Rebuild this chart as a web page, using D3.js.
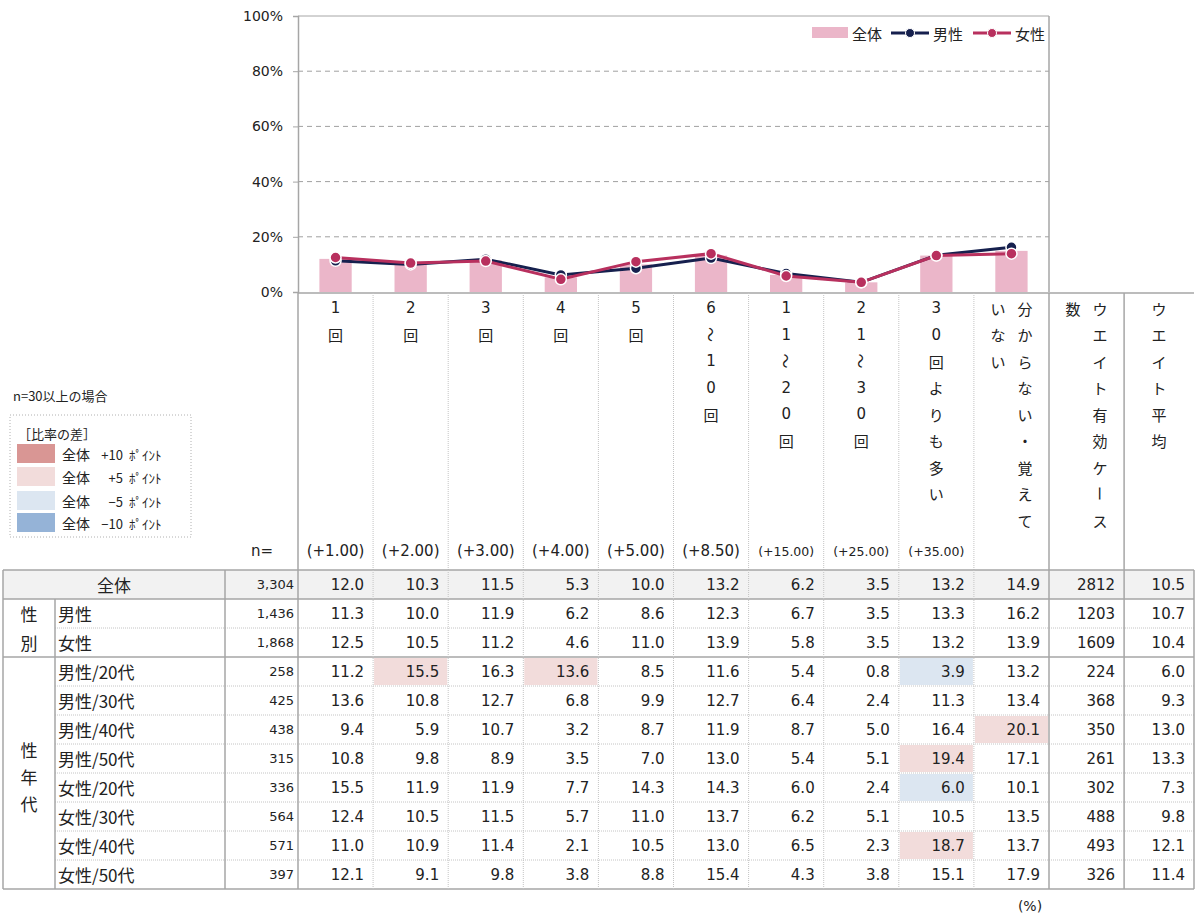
<!DOCTYPE html>
<html>
<head>
<meta charset="utf-8">
<script src="https://cdn.jsdelivr.net/npm/d3@7"></script>
<style>
body { margin: 0; background: #fff; }
svg { display: block; font-family: "Noto Sans CJK JP", sans-serif; fill: #222; }
.num { font-family: "DejaVu Sans", sans-serif; }
</style>
</head>
<body>
<svg id="chart" width="1195" height="916"></svg>
<script>
var categories = ['1回', '2回', '3回', '4回', '5回', '6〜10回', '11〜20回', '21〜30回', '30回よりも多い', '分からない・覚えていない'];
var weightLabels = ['(+1.00)', '(+2.00)', '(+3.00)', '(+4.00)', '(+5.00)', '(+8.50)', '(+15.00)', '(+25.00)', '(+35.00)', ''];
var extraHeaders = ['ウエイト有効ケース数', 'ウエイト平均'];
var yTicks = [0, 20, 40, 60, 80, 100];
var seriesNames = ['全体', '男性', '女性'];

var rowLabels = ['全体', '男性', '女性', '男性/20代', '男性/30代', '男性/40代', '男性/50代', '女性/20代', '女性/30代', '女性/40代', '女性/50代'];
var groupLabels = ['性別', '性年代'];
var groupRows = [[1, 2], [3, 10]];
var rowN = [3304, 1436, 1868, 258, 425, 438, 315, 336, 564, 571, 397];
var pct = [
    [12.0, 10.3, 11.5, 5.3, 10.0, 13.2, 6.2, 3.5, 13.2, 14.9],
    [11.3, 10.0, 11.9, 6.2, 8.6, 12.3, 6.7, 3.5, 13.3, 16.2],
    [12.5, 10.5, 11.2, 4.6, 11.0, 13.9, 5.8, 3.5, 13.2, 13.9],
    [11.2, 15.5, 16.3, 13.6, 8.5, 11.6, 5.4, 0.8, 3.9, 13.2],
    [13.6, 10.8, 12.7, 6.8, 9.9, 12.7, 6.4, 2.4, 11.3, 13.4],
    [9.4, 5.9, 10.7, 3.2, 8.7, 11.9, 8.7, 5.0, 16.4, 20.1],
    [10.8, 9.8, 8.9, 3.5, 7.0, 13.0, 5.4, 5.1, 19.4, 17.1],
    [15.5, 11.9, 11.9, 7.7, 14.3, 14.3, 6.0, 2.4, 6.0, 10.1],
    [12.4, 10.5, 11.5, 5.7, 11.0, 13.7, 6.2, 5.1, 10.5, 13.5],
    [11.0, 10.9, 11.4, 2.1, 10.5, 13.0, 6.5, 2.3, 18.7, 13.7],
    [12.1, 9.1, 9.8, 3.8, 8.8, 15.4, 4.3, 3.8, 15.1, 17.9]
];
var weightN = [2812, 1203, 1609, 224, 368, 350, 261, 302, 488, 493, 326];
var weightAvg = [10.5, 10.7, 10.4, 6.0, 9.3, 13.0, 13.3, 7.3, 9.8, 12.1, 11.4];

var diffLegend = ['全体', '全体', '全体', '全体'];
var diffValues = ['+10', '+5', '−5', '−10'];

// colours
var barColor = '#ebb6c9';
var lineColors = ['#16204e', '#b8305e'];
var diffColors = ['#d99694', '#f2dcdb', '#dce6f1', '#95b3d7'];
var gridSolid = '#a6a6a6';
var gridDot = '#c4c4c4';

var svg = d3.select('#chart');

var plotL = 298, plotR = 1049, plotT = 16, plotB = 292;
var x = d3.scaleBand().domain(categories).range([plotL, plotR]).paddingInner(0.57).paddingOuter(0.285);
var y = d3.scaleLinear().domain([0, 100]).range([plotB, plotT]);
var step = x.step();
var colX = function (k) { return plotL + k * step; };

// ---- plot area ----
svg.append('g').selectAll('line')
    .data(yTicks.filter(function (d) { return d > 0 && d < 100; }))
    .enter().append('line')
    .attr('x1', plotL).attr('x2', plotR)
    .attr('y1', function (d) { return y(d); }).attr('y2', function (d) { return y(d); })
    .attr('stroke', '#a0a0a0').attr('stroke-dasharray', '5,4');

svg.append('line').attr('x1', plotL).attr('x2', plotR).attr('y1', plotT).attr('y2', plotT).attr('stroke', gridSolid);
svg.append('line').attr('x1', plotR).attr('x2', plotR).attr('y1', plotT).attr('y2', plotB).attr('stroke', gridSolid).attr('stroke-width', 1.5);

var yAxis = svg.append('g').attr('transform', 'translate(' + plotL + ',0)')
    .call(d3.axisLeft(y).tickValues(yTicks).tickSize(5).tickFormat(function (d) { return d + '%'; }));
yAxis.select('.domain').attr('stroke', gridSolid).attr('stroke-width', 1.5);
yAxis.selectAll('.tick line').attr('stroke', gridSolid);
yAxis.selectAll('.tick text').attr('class', 'num').attr('font-size', 14).attr('fill', '#222').attr('x', -15);

svg.selectAll('.bar')
    .data(pct[0])
    .enter().append('rect')
    .attr('class', 'bar')
    .attr('x', function (d, i) { return x(categories[i]); })
    .attr('width', x.bandwidth())
    .attr('y', function (d) { return y(d); })
    .attr('height', function (d) { return plotB - y(d); })
    .attr('fill', barColor);

// baseline
svg.append('line').attr('x1', plotL).attr('x2', 1194).attr('y1', plotB + 1).attr('y2', plotB + 1).attr('stroke', gridSolid).attr('stroke-width', 1.5);

var line = d3.line()
    .x(function (d, i) { return x(categories[i]) + x.bandwidth() / 2; })
    .y(function (d) { return y(d); });

[1, 2].forEach(function (r, si) {
    svg.append('path').datum(pct[r])
        .attr('d', line)
        .attr('fill', 'none')
        .attr('stroke', lineColors[si])
        .attr('stroke-width', 3);
});
[1, 2].forEach(function (r, si) {
    svg.append('g').selectAll('circle')
        .data(pct[r])
        .enter().append('circle')
        .attr('cx', function (d, i) { return x(categories[i]) + x.bandwidth() / 2; })
        .attr('cy', function (d) { return y(d); })
        .attr('r', 5.5)
        .attr('fill', lineColors[si])
        .attr('stroke', '#fff').attr('stroke-width', 1.5);
});

// legend (top right)
var lg = svg.append('g').attr('font-size', 15);
lg.append('rect').attr('x', 812).attr('y', 27).attr('width', 36).attr('height', 11).attr('fill', barColor);
lg.append('text').attr('x', 852).attr('y', 33).attr('dominant-baseline', 'central').text(seriesNames[0]);
[[891, 933], [973, 1015]].forEach(function (p, i) {
    lg.append('line').attr('x1', p[0]).attr('x2', p[0] + 38).attr('y1', 33).attr('y2', 33)
        .attr('stroke', lineColors[i]).attr('stroke-width', 3);
    lg.append('circle').attr('cx', p[0] + 19).attr('cy', 33).attr('r', 4.5)
        .attr('fill', lineColors[i]).attr('stroke', '#fff').attr('stroke-width', 1);
    lg.append('text').attr('x', p[1]).attr('y', 33).attr('dominant-baseline', 'central').text(seriesNames[i + 1]);
});

// ---- column headers ----
var hdr = svg.append('g').attr('font-size', 15);
function verticalText(str, cx) {
    var chars = Array.from(str);
    var cols = [];
    for (var i = 0; i < chars.length; i += 9) cols.push(chars.slice(i, i + 9));
    cols.forEach(function (col, ci) {
        var tx = cx + ((cols.length - 1) / 2 - ci) * 27;
        col.forEach(function (ch, k) {
            var ty = 308 + k * 26.5;
            var t = hdr.append('text').attr('x', tx).attr('y', ty)
                .attr('text-anchor', 'middle').attr('dominant-baseline', 'central').text(ch);
            if (/[0-9]/.test(ch)) t.attr('class', 'num');
            if (ch === '〜' || ch === 'ー') t.attr('transform', 'rotate(90,' + tx + ',' + ty + ')');
        });
    });
}
categories.concat(extraHeaders).forEach(function (c, k) {
    var left = colX(k), right = Math.min(colX(k + 1), 1194);
    verticalText(c, (left + right) / 2);
});
hdr.selectAll('.w')
    .data(weightLabels)
    .enter().append('text')
    .attr('class', 'num')
    .attr('x', function (d, k) { return colX(k) + step / 2; })
    .attr('y', 551)
    .attr('text-anchor', 'middle').attr('dominant-baseline', 'central')
    .attr('font-size', function (d) { return d.length > 7 ? 12.5 : 15; })
    .text(function (d) { return d; });
hdr.append('text').attr('class', 'num').attr('x', 262).attr('y', 551)
    .attr('text-anchor', 'middle').attr('dominant-baseline', 'central').text('n=');

// header separators
for (var k = 1; k <= 11; k++) {
    svg.append('line').attr('x1', colX(k)).attr('x2', colX(k)).attr('y1', plotB + 1).attr('y2', 570)
        .attr('stroke', k >= 10 ? gridSolid : gridDot)
        .attr('stroke-width', k >= 10 ? 1.5 : 1)
        .attr('stroke-dasharray', k >= 10 ? null : '1,1');
}
svg.append('line').attr('x1', plotL).attr('x2', plotL).attr('y1', plotB).attr('y2', 570).attr('stroke', gridSolid).attr('stroke-width', 1.5);

// ---- table ----
var tTop = 570, rowH = 29, tL = 3, tR = 1194;
var rowY = function (i) { return tTop + i * rowH; };
var tbl = svg.append('g');

tbl.append('rect').attr('x', tL).attr('y', rowY(0)).attr('width', tR - tL).attr('height', rowH).attr('fill', '#f2f2f2');

// highlighted cells
pct.forEach(function (row, r) {
    if (r === 0 || rowN[r] < 30) return;
    row.forEach(function (v, c) {
        var d = v - pct[0][c];
        var col = d >= 10 ? diffColors[0] : d >= 5 ? diffColors[1] : d <= -10 ? diffColors[3] : d <= -5 ? diffColors[2] : null;
        if (!col) return;
        tbl.append('rect').attr('x', colX(c) + 1).attr('y', rowY(r) + 1)
            .attr('width', step - 2).attr('height', rowH - 2).attr('fill', col);
    });
});

// horizontal rules
for (var i = 0; i <= rowLabels.length; i++) {
    var solid = (i === 0 || i === 1 || i === 3 || i === rowLabels.length);
    tbl.append('line')
        .attr('x1', solid ? tL : 55).attr('x2', tR)
        .attr('y1', rowY(i)).attr('y2', rowY(i))
        .attr('stroke', solid ? gridSolid : gridDot)
        .attr('stroke-width', solid ? 1.5 : 1)
        .attr('stroke-dasharray', solid ? null : '1,1');
}
// vertical rules
[[tL, 0], [55, 1], [225, 0], [298, 0], [colX(10), 0], [colX(11), 0], [tR, 0]].forEach(function (v) {
    tbl.append('line').attr('x1', v[0]).attr('x2', v[0]).attr('y1', rowY(v[1])).attr('y2', rowY(rowLabels.length))
        .attr('stroke', gridSolid).attr('stroke-width', 1.5);
});
for (var k2 = 1; k2 <= 9; k2++) {
    tbl.append('line').attr('x1', colX(k2)).attr('x2', colX(k2)).attr('y1', rowY(0)).attr('y2', rowY(rowLabels.length))
        .attr('stroke', gridDot).attr('stroke-dasharray', '1,1');
}

// row labels
tbl.append('text').attr('x', (tL + 225) / 2).attr('y', rowY(0) + rowH / 2)
    .attr('text-anchor', 'middle').attr('dominant-baseline', 'central').attr('font-size', 17).text(rowLabels[0]);
rowLabels.slice(1).forEach(function (lab, j) {
    tbl.append('text').attr('x', 58).attr('y', rowY(j + 1) + rowH / 2)
        .attr('dominant-baseline', 'central').attr('font-size', 17).text(lab);
});
var groupGap = [29, 27];
groupLabels.forEach(function (g, gi) {
    var chars = Array.from(g);
    var mid = (rowY(groupRows[gi][0]) + rowY(groupRows[gi][1] + 1)) / 2 + (gi ? 3 : 0);
    chars.forEach(function (ch, k) {
        tbl.append('text').attr('x', 29).attr('y', mid + (k - (chars.length - 1) / 2) * groupGap[gi])
            .attr('text-anchor', 'middle').attr('dominant-baseline', 'central').attr('font-size', 17).text(ch);
    });
});

// values
rowN.forEach(function (n, r) {
    var cy = rowY(r) + rowH / 2;
    tbl.append('text').attr('class', 'num').attr('x', 294).attr('y', cy)
        .attr('text-anchor', 'end').attr('dominant-baseline', 'central').attr('font-size', 13)
        .text(d3.format(',')(n));
    var cells = pct[r].map(function (v) { return v.toFixed(1); })
        .concat([String(weightN[r]), weightAvg[r].toFixed(1)]);
    cells.forEach(function (t, c) {
        var right = Math.min(colX(c + 1), tR);
        tbl.append('text').attr('class', 'num').attr('x', right - 9).attr('y', cy)
            .attr('text-anchor', 'end').attr('dominant-baseline', 'central').attr('font-size', 15).text(t);
    });
});

svg.append('text').attr('class', 'num').attr('x', 1030).attr('y', 906)
    .attr('text-anchor', 'middle').attr('dominant-baseline', 'central').attr('font-size', 14).text('(%)');

// ---- left note + diff legend ----
var note = svg.append('g');
note.append('text').attr('x', 13).attr('y', 395).attr('dominant-baseline', 'central').attr('font-size', 13).text('n=30以上の場合');
note.append('rect').attr('x', 10).attr('y', 415).attr('width', 181).attr('height', 122)
    .attr('fill', 'none').attr('stroke', '#b0b0b0').attr('stroke-dasharray', '1,2');
note.append('text').attr('x', 18).attr('y', 433).attr('dominant-baseline', 'central').attr('font-size', 13).text('［比率の差］');
var swY = [444, 467, 491, 513];
diffColors.forEach(function (c, i) {
    note.append('rect').attr('x', 17).attr('y', swY[i]).attr('width', 38).attr('height', 19).attr('fill', c);
    note.append('text').attr('x', 62).attr('y', swY[i] + 10).attr('dominant-baseline', 'central').attr('font-size', 14).text(diffLegend[i]);
    note.append('text').attr('x', 123).attr('y', swY[i] + 10).attr('text-anchor', 'end').attr('dominant-baseline', 'central').attr('font-size', 13).text(diffValues[i]);
    note.append('text').attr('x', 129).attr('y', swY[i] + 10).attr('dominant-baseline', 'central').attr('font-size', 13).text('ﾎﾟｲﾝﾄ');
});
</script>
</body>
</html>
